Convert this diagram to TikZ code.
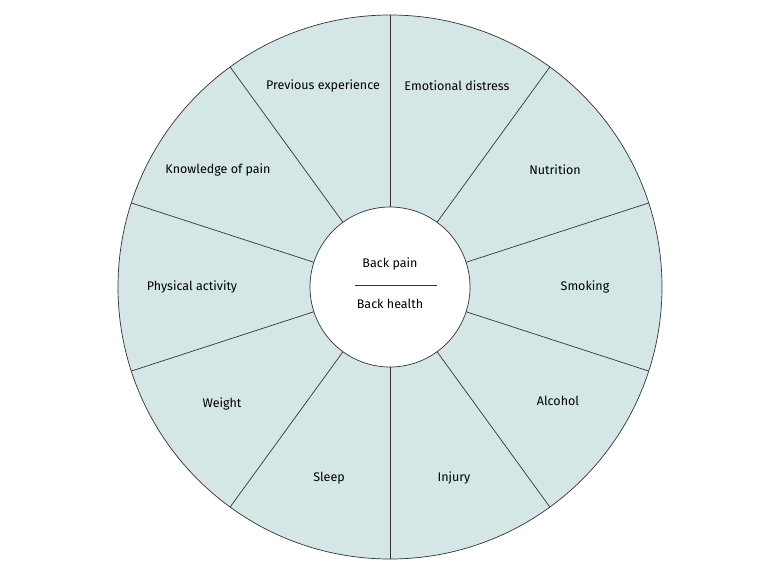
\documentclass[tikz,border=0pt]{standalone}
\usepackage{fontspec}
\setmainfont{Fira Sans}
\begin{document}
\begin{tikzpicture}[x=1pt,y=-1pt,lab/.style={font=\fontsize{12.5}{14}\selectfont,text=black}]
\useasboundingbox (0,0) rectangle (780,574);
\definecolor{seg}{HTML}{D4E7E6}
\definecolor{ln}{HTML}{333333}
\coordinate (c) at (390,287);
\fill[seg,draw=ln,line width=0.7pt] (c) circle[radius=272];
\foreach \a in {90,54,18,-18,-54,-90,-126,-162,162,126}{
  \draw[ln,line width=0.7pt] (c) -- ++({cos(\a)*272},{-sin(\a)*272});
}
\node[circle,fill=white,draw=ln,line width=0.7pt,minimum size=160pt,inner sep=0] (ctr) at (c) {};
\node[lab] (bp) at (390,264) {Back pain};
\node[lab] (bh) at (390,304) {Back health};
\draw[ln,line width=0.6pt] (355,285) -- (437,285);
\node[lab] (l1) at (323,86) {Previous experience};
\node[lab] (l2) at (457,86) {Emotional distress};
\node[lab] (l3) at (555,170) {Nutrition};
\node[lab] (l4) at (585,287) {Smoking};
\node[lab] (l5) at (558,401) {Alcohol};
\node[lab] (l6) at (454,478) {Injury};
\node[lab] (l7) at (329,478) {Sleep};
\node[lab] (l8) at (222,404) {Weight};
\node[lab] (l9) at (192,287) {Physical activity};
\node[lab] (l10) at (218,170) {Knowledge of pain};
\end{tikzpicture}
\end{document}
